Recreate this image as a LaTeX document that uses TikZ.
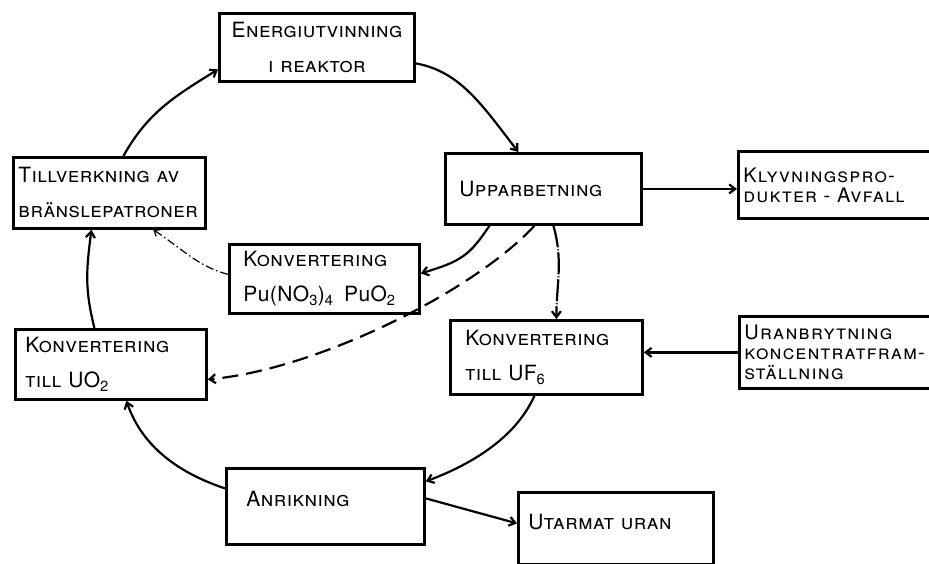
\documentclass[tikz,border=0pt]{standalone}
\usepackage{fontspec}
\setmainfont{TeX Gyre Heros}[LetterSpace=2]
\usetikzlibrary{arrows.meta}
\newcommand\lettfont{\fontsize{21}{35}\selectfont\scshape}
\newcommand\tightfont{\fontsize{20}{20}\selectfont\scshape\addfontfeature{LetterSpace=6}}
\tikzset{
  box/.style={rectangle, draw, line width=2.8pt, anchor=north west,
    align=left, inner ysep=0pt, font=\lettfont},
  arrow/.style={-{Straight Barb[length=6pt,width=9pt]}, line width=2.2pt},
  dasharrow/.style={arrow, dash pattern=on 16pt off 8pt},
  brokenarrow/.style={arrow, dash pattern=on 22pt off 2pt on 1pt off 2pt},
  dotarrow/.style={-{Straight Barb[length=5pt,width=8pt]}, line width=1.2pt,
    dash pattern=on 8pt off 3pt on 1.5pt off 3pt}
}

\begin{document}
\begin{tikzpicture}[x=1pt, y=-1pt]
  \path[use as bounding box, fill=white] (0,0) rectangle (929,564);
  \clip (0,0) rectangle (929,564);

  % the fuel cycle
  \node[box, align=center, text width=185pt, inner xsep=5pt, minimum height=68pt] (energi) at (218,12) {Energiutvinning\\i reaktor};
  \node[box, text width=168pt, inner xsep=14pt, minimum height=71pt] (upp) at (444,152) {Upparbetning};
  \node[box, text width=162pt, inner xsep=15pt, minimum height=74pt] (konvuf) at (449,319) {Konvertering\\till UF\textsubscript{6}};
  \node[box, text width=158pt, inner xsep=20pt, minimum height=76pt, text depth=16pt] (anrik) at (225,467) {Anrikning};
  \node[box, text width=171pt, inner xsep=10pt, minimum height=70pt] (konvuo) at (14,328) {Konvertering\\till UO\textsubscript{2}};
  \node[box, text width=182pt, inner xsep=5pt, minimum height=71pt] (tillv) at (12,156) {Tillverkning av\\bränslepatroner};
  \node[box, text width=176pt, inner xsep=7pt, minimum height=69pt] (konvpu) at (228,243) {\hspace{7pt}Konvertering\\\hspace{7pt}{\upshape Pu(NO\textsubscript{3})\textsubscript{4}\enspace PuO\textsubscript{2}}};

  % in and out
  \node[box, font=\tightfont, text width=250pt, inner xsep=5pt, minimum height=67pt] (klyv) at (737,150) {Klyvningspro-\\dukter - Avfall};
  \node[box, font=\tightfont, text width=250pt, inner xsep=5pt, minimum height=72pt] (uran) at (738,315) {Uranbrytning\\koncentratfram-\\ställning};
  \node[box, text width=175pt, inner xsep=10pt, minimum height=72pt, text depth=14pt] (utarm) at (517,491) {Utarmat uran};

  \draw[arrow] ([yshift=-16pt]energi.east) .. controls +(45,8) and +(-35,-45) .. ([xshift=-25pt]upp.north);
  \draw[arrow] (upp.east) -- (upp.east -| klyv.west);
  \draw[arrow] ([xshift=-54pt]upp.south) .. controls +(-20,30) and +(40,-12) .. ([yshift=5.5pt]konvpu.east);
  \draw[dasharrow] ([xshift=-9pt]upp.south) .. controls +(-60,65) and +(110,-10) .. ([yshift=-15pt]konvuo.east);
  \draw[brokenarrow] ([xshift=10pt]upp.south) .. controls +(10,35) and +(0,-35) .. ([xshift=10pt]konvuf.north);
  \draw[dotarrow] ([yshift=4.5pt]konvpu.west) .. controls +(-30,-8) and +(30,20) .. ([xshift=44pt]tillv.south);
  \draw[arrow] (uran.west) -- (uran.west -| konvuf.east);
  \draw[arrow] ([xshift=-12pt]konvuf.south) .. controls +(-20,45) and +(40,-15) .. ([yshift=25pt]anrik.east);
  \draw[arrow] ([yshift=8pt]anrik.east) -- ([yshift=5pt]utarm.west);
  \draw[arrow] ([yshift=18pt]anrik.west) .. controls +(-60,-20) and +(12,35) .. ([xshift=15.5pt]konvuo.south);
  \draw[arrow] ([xshift=-16.5pt]konvuo.north) .. controls +(-10,-40) and +(-5,40) .. ([xshift=-18pt]tillv.south);
  \draw[arrow] ([xshift=14pt]tillv.north) .. controls +(25,-45) and +(-40,25) .. ([yshift=-22pt]energi.west);
\end{tikzpicture}
\end{document}
